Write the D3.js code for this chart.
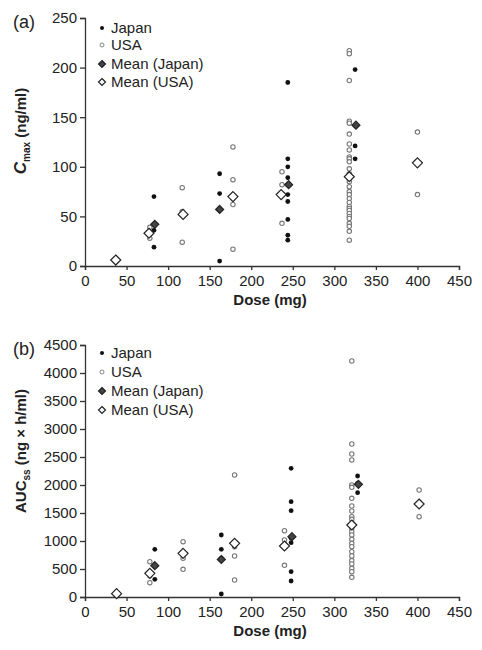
<!DOCTYPE html>
<html>
<head>
<meta charset="utf-8">
<script src="https://cdn.jsdelivr.net/npm/d3@7"></script>
<style>
  body { margin: 0; background: #fff; }
  svg { font-family: "Liberation Sans", Arial, sans-serif; }
</style>
</head>
<body>
<div class="container"></div>
<script>
// panel (a) Cmax, ng/ml  -- [dose, value]
const cmaxJapan = [[83,70],[83,42],[83,36],[83,19],
  [162,93],[162,73],[162,57],[162,5],
  [244,185],[244,108],[244,100],[244,89],[244,82],[244,72],[244,65],[244,47],[244,31],[244,26],
  [325,198],[325,121],[325,108]]
const cmaxUSA = [[78,39],[78,28],
  [117,79],[117,55],[117,24],
  [178,120],[178,87],[178,68],[178,62],[178,17],
  [237,95],[237,82],[237,43],
  [318,217],[318,214],[318,187],[318,146],[318,144],[318,133],[318,123],[318,117],[318,110],[318,108],
  [318,105],[318,98],[318,93],[318,85],[318,80],[318,75],[318,72],[318,68],[318,64],[318,60],[318,58],
  [318,56],[318,53],[318,50],[318,48],[318,43],[318,40],[318,35],[318,26],
  [400,135],[400,72]]
const cmaxMeanJapan = [[84,42],[162,57],[245,82],[326,142]]
const cmaxMeanUSA = [[37,6],[77,33],[118,52],[178,70],[236,72],[318,90],[400,104]]

// panel (b) AUCss, ng x h/ml
const aucJapan = [[84,852],[84,571],[84,316],
  [164,1107],[164,851],[164,690],[164,54],
  [248,2298],[248,1702],[248,1541],[248,1050],[248,970],[248,452],[248,286],
  [328,2161],[328,2030],[328,1863]]
const aucUSA = [[78,631],[78,380],[78,256],
  [118,988],[118,691],[118,494],
  [180,2179],[180,899],[180,732],[180,304],
  [240,1185],[240,1018],[240,566],
  [321,4214],[321,2732],[321,2554],[321,2447],[321,2000],[321,1959],[321,1762],[321,1625],[321,1536],
  [321,1434],[321,1387],[321,1227],[321,1166],[321,1107],[321,1030],[321,958],[321,899],[321,809],
  [321,732],[321,650],[321,589],[321,512],[321,452],[321,352],
  [402,1911],[402,1434]]
const aucMeanJapan = [[84,560],[164,670],[249,1077],[329,2012]]
const aucMeanUSA = [[38,60],[78,423],[118,780],[180,958],[240,911],[321,1286],[402,1661]]

const doseTicks = [0,50,100,150,200,250,300,350,400,450]
const cmaxTicks = [0,50,100,150,200,250]
const aucTicks = [0,500,1000,1500,2000,2500,3000,3500,4000,4500]
const legendLabels = ['Japan','USA','Mean (Japan)','Mean (USA)']

const width = 482, height = 650

const svg = d3.select('.container').append('svg')
  .attr('width', width).attr('height', height)

const x = d3.scaleLinear().domain([0,450]).range([85,459])

function diamond(g, data, sx, sy, r, fill) {
  g.selectAll(null).data(data).join('path')
    .attr('d', d => {
      const cx = sx(d[0]), cy = sy(d[1])
      return `M${cx},${cy-r}L${cx+r},${cy}L${cx},${cy+r}L${cx-r},${cy}Z`
    })
    .attr('fill', fill).attr('stroke', '#222').attr('stroke-width', 1.2)
}

function panel(opt) {
  const y = d3.scaleLinear().domain(opt.domain).range(opt.range)
  const g = svg.append('g')

  const xAxis = g.append('g').attr('transform', `translate(0,${opt.range[0]})`)
    .call(d3.axisBottom(x).tickValues(doseTicks).tickSize(4).tickPadding(5))
  const yAxis = g.append('g').attr('transform', `translate(${x(0)},0)`)
    .call(d3.axisLeft(y).tickValues(opt.ticks).tickFormat(d3.format('d')).tickSize(5).tickPadding(3))
  ;[xAxis, yAxis].forEach(a => {
    a.selectAll('path,line').attr('stroke', '#333').attr('stroke-width', 1.3)
    a.selectAll('text').attr('font-size', 15).attr('fill', '#222')
      .attr('font-family', '"Liberation Sans", Arial, sans-serif')
  })

  // USA individual points
  g.selectAll(null).data(opt.usa).join('circle')
    .attr('cx', d => x(d[0])).attr('cy', d => y(d[1])).attr('r', 2.2)
    .attr('fill', '#fff').attr('stroke', '#777').attr('stroke-width', 1.1)
  // Japan individual points
  g.selectAll(null).data(opt.japan).join('circle')
    .attr('cx', d => x(d[0])).attr('cy', d => y(d[1])).attr('r', 2.4)
    .attr('fill', '#111')
  diamond(g, opt.meanUSA, x, y, 5, '#fff')
  diamond(g, opt.meanJapan, x, y, 4, '#444')

  // legend
  const lg = g.append('g')
  legendLabels.forEach((lab, i) => {
    const ly = opt.legendY[i]
    if (i === 0) lg.append('circle').attr('cx', 102).attr('cy', ly).attr('r', 2).attr('fill', '#111')
    if (i === 1) lg.append('circle').attr('cx', 102).attr('cy', ly).attr('r', 2)
      .attr('fill', '#fff').attr('stroke', '#888')
    if (i === 2) diamond(lg, [[0,0]], () => 102, () => ly, 3.5, '#444')
    if (i === 3) diamond(lg, [[0,0]], () => 102, () => ly, 3.5, '#fff')
    lg.append('text').attr('x', 111).attr('y', ly + 5).attr('font-size', 15)
      .attr('fill', '#222').text(lab)
  })

  // panel letter
  g.append('text').attr('x', 13).attr('y', opt.range[1] + 10).attr('font-size', 18)
    .attr('fill', '#222').text(opt.letter)

  // axis titles
  g.append('text').attr('x', 270).attr('y', opt.range[0] + 39)
    .attr('text-anchor', 'middle').attr('font-size', 15).attr('font-weight', 'bold')
    .attr('fill', '#222').text('Dose (mg)')

  const yt = g.append('text')
    .attr('transform', `translate(26,${opt.titleY}) rotate(-90)`)
    .attr('text-anchor', 'middle').attr('font-size', 15).attr('font-weight', 'bold')
    .attr('fill', '#222')
  opt.title(yt)
}

panel({
  letter: '(a)', domain: [0,250], range: [266,18], ticks: cmaxTicks,
  japan: cmaxJapan, usa: cmaxUSA, meanJapan: cmaxMeanJapan, meanUSA: cmaxMeanUSA,
  legendY: [28,45,64,82], titleY: 131,
  title: t => {
    t.append('tspan').attr('font-style', 'italic').attr('font-size', 17).text('C')
    t.append('tspan').attr('font-size', 10).attr('dy', 4).text('max')
    t.append('tspan').attr('dy', -4).text(' (ng/ml)')
  }
})

panel({
  letter: '(b)', domain: [0,4500], range: [597,345], ticks: aucTicks,
  japan: aucJapan, usa: aucUSA, meanJapan: aucMeanJapan, meanUSA: aucMeanUSA,
  legendY: [353,372,391,410], titleY: 451,
  title: t => {
    t.append('tspan').text('AUC')
    t.append('tspan').attr('font-size', 10).attr('dy', 4).text('ss')
    t.append('tspan').attr('dy', -4).text(' (ng \u00d7 h/ml)')
  }
})
</script>
</body>
</html>
